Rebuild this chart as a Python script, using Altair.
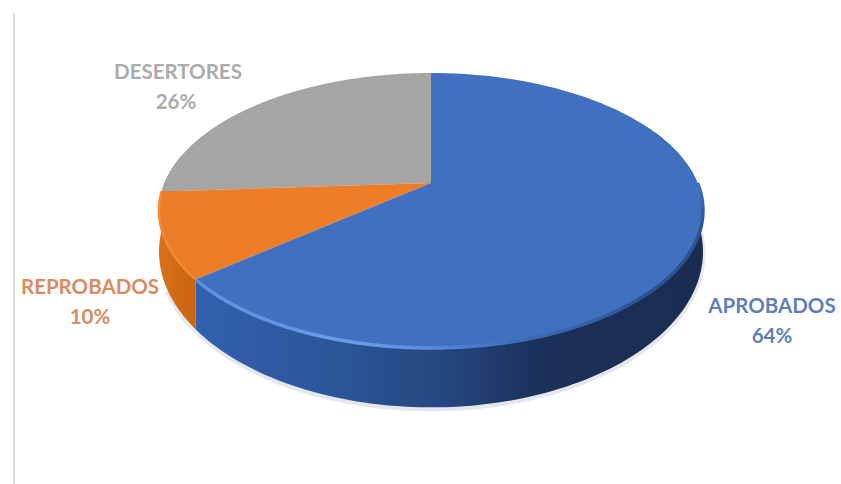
import numpy as np
import pandas as pd
import altair as alt

labels = ["APROBADOS", "REPROBADOS", "DESERTORES"]
shares = [64, 10, 26]
top_fill = ["#4070bf", "#ee7d28", "#a5a5a5"]
text_color = ["#5f7fb8", "#d98c62", "#ababab"]

W, H = 841, 484
# Perspective disc: the vertex of the pie and the tilt of its plane
CX, CY = 431, 183
A, B, K = 266.5, 132.0, 0.2
DEPTH = 38.0

x_scale = alt.Scale(domain=[0, W], range=[0, W])
y_scale = alt.Scale(domain=[H, 0], range=[H, 0])


def rim(deg0, deg1, lower=False, n=120):
    """Rim points between two clockwise angles measured from twelve o'clock."""
    t = np.radians(np.linspace(deg0, deg1, n))
    u, v = np.sin(t), np.cos(t)
    d = 1 + K * v
    x = CX + A * u / d
    y = CY - B * v / d
    if lower:
        y = y + DEPTH / d ** 2
    return x, y


def frame(x, y):
    return pd.DataFrame({"x": x, "y": y, "i": np.arange(len(x))})


def encoded(mark, df):
    return mark.encode(
        x=alt.X("x:Q", scale=x_scale, axis=None),
        y=alt.Y("y:Q", scale=y_scale, axis=None),
        order=alt.Order("i:Q"),
    ).properties(data=df)


def wall(deg0, deg1, fill):
    x0, y0 = rim(deg0, deg1)
    x1, y1 = rim(deg0, deg1, lower=True)
    df = frame(np.r_[x0, x1[::-1]], np.r_[y0, y1[::-1]])
    return encoded(
        alt.Chart().mark_line(fill=fill, strokeWidth=0, interpolate="linear-closed"), df
    )


def slice_top(deg0, deg1, fill):
    x, y = rim(deg0, deg1)
    df = frame(np.r_[CX, x], np.r_[CY, y])
    return encoded(
        alt.Chart().mark_line(fill=fill, strokeWidth=0, interpolate="linear-closed"), df
    )


def sweep(deg0, deg1, stroke, width, opacity=1.0):
    x, y = rim(deg0, deg1)
    return encoded(
        alt.Chart().mark_line(stroke=stroke, strokeWidth=width, strokeOpacity=opacity),
        frame(x, y),
    )


def label_text(text, color, px, py):
    return (
        alt.Chart(pd.DataFrame({"t": [text]}))
        .mark_text(font="Lato", fontWeight="bold", fontSize=20.5, color=color, align="center", baseline="middle")
        .encode(text="t:N", x=alt.value(px), y=alt.value(py))
    )


def grad(stops, x2=1, y2=0):
    return alt.Gradient(
        gradient="linear",
        x1=0, y1=0, x2=x2, y2=y2,
        stops=[alt.GradientStop(offset=o, color=c) for o, c in stops],
    )


# Slice boundaries, clockwise from twelve o'clock
edges = np.cumsum([0] + shares) * 3.6
blue0, blue1 = edges[0], edges[1]
orange0, orange1 = edges[1], edges[2]
grey0, grey1 = edges[2], edges[3]

left_rule = (
    alt.Chart(pd.DataFrame({"a": [0]}))
    .mark_rule(color="#d9d9d9", strokeWidth=2)
    .encode(x=alt.value(14), y=alt.value(13), y2=alt.value(H))
)

blue_wall = grad([(0, "#3260ae"), (0.3, "#2a5596"), (0.5, "#24467e"), (0.68, "#1b3059"), (1, "#1a2c50")])
orange_wall = grad([(0, "#d9701c"), (1, "#c9640f")])
blue_glint = grad([(0, "#5d8fe0"), (0.5, "#6c9ce8"), (0.72, "#5a8cdc"), (1, "#3f6cb8")])
blue_shade = grad([(0, "#4070bf"), (0.3, "#2c5290"), (0.75, "#2c5290"), (1, "#3f6cb8")], x2=0, y2=1)

# Soft contact edge under the wall
shadow_x, shadow_y = rim(70, 245, lower=True)
shadow = encoded(
    alt.Chart().mark_line(stroke="#d8dde6", strokeWidth=5, strokeOpacity=0.7),
    frame(shadow_x, shadow_y + 1.5),
)

layers = [
    left_rule,
    shadow,
    wall(orange0, orange1 + 16, orange_wall),
    wall(blue1 - 165, blue1, blue_wall),
    slice_top(grey0, grey1, top_fill[2]),
    slice_top(orange0, orange1, top_fill[1]),
    slice_top(blue0, blue1, top_fill[0]),
    # Soft shaded transition along the right of the rim
    sweep(90, 165, blue_shade, 3.5),
    sweep(165, blue1, blue_glint, 3.5),
    sweep(orange0, orange1, "#f58a2e", 2.5),
    label_text(labels[0], text_color[0], 772, 307),
    label_text(f"{shares[0]}%", text_color[0], 772, 337),
    label_text(labels[1], text_color[1], 90, 288),
    label_text(f"{shares[1]}%", text_color[1], 90, 318),
    label_text(labels[2], text_color[2], 178, 73),
    label_text(f"{shares[2]}%", text_color[2], 176, 103),
]

chart = (
    alt.layer(*layers)
    .properties(width=W, height=H, padding=0, autosize=alt.AutoSizeParams(type="none"), background="white")
    .configure_view(stroke=None)
)

chart.save("out.html", embed_options={"renderer": "svg", "actions": False})
